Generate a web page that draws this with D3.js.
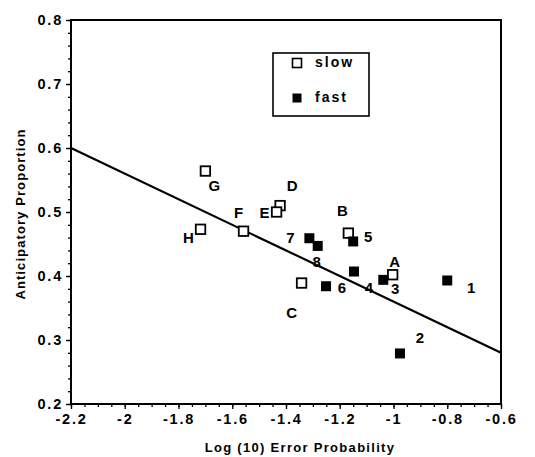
<!DOCTYPE html>
<html>
<head>
<meta charset="utf-8">
<script src="https://cdn.jsdelivr.net/npm/d3@7"></script>
<style>
  html, body { margin: 0; padding: 0; background: #fff; }
  svg { display: block; font-family: "Liberation Sans", Arial, sans-serif; }
</style>
</head>
<body>
<svg id="chart"></svg>
<script>
// Anticipatory proportion vs log error probability, slow / fast groups

// slow subjects (open squares)
const slowLabels = ["A", "B", "C", "D", "E", "F", "G", "H"];
const slowX = [-1.003, -1.168, -1.342, -1.422, -1.435, -1.558, -1.70, -1.718];
const slowY = [0.402, 0.467, 0.389, 0.510, 0.500, 0.470, 0.564, 0.473];

// fast subjects (filled squares)
const fastLabels = ["1", "2", "3", "4", "5", "6", "7", "8"];
const fastX = [-0.80, -0.976, -1.038, -1.147, -1.150, -1.251, -1.313, -1.282];
const fastY = [0.393, 0.279, 0.394, 0.407, 0.454, 0.384, 0.459, 0.447];

// regression line end points
const regX = [-2.2, -0.6];
const regY = [0.6, 0.28];

// ticks
const xTicks = [-2.2, -2, -1.8, -1.6, -1.4, -1.2, -1, -0.8, -0.6];
const xTickLabels = ["-2.2", "-2", "-1.8", "-1.6", "-1.4", "-1.2", "-1", "-0.8", "-0.6"];
const yTicks = [0.2, 0.3, 0.4, 0.5, 0.6, 0.7, 0.8];
const yTickLabels = ["0.2", "0.3", "0.4", "0.5", "0.6", "0.7", "0.8"];

const legendNames = ["slow", "fast"];

// label placement next to each point (pixel offsets)
const labelOffset = {
  A: [2, -13], B: [-6, -23], C: [-10, 30], D: [12, -20],
  E: [-12, 1], F: [-5, -19], G: [9, 15], H: [-12, 8],
  1: [24, 7], 2: [20, -16], 3: [12, 9], 4: [15, 16],
  5: [15, -5], 6: [16, 1], 7: [-19, -1], 8: [-1, 16],
};

const outerWidth = 535;
const outerHeight = 457;
const margin = { top: 20, right: 34, bottom: 53, left: 71 };
const innerWidth = outerWidth - margin.left - margin.right;
const innerHeight = outerHeight - margin.top - margin.bottom;

const svg = d3
  .select("#chart")
  .attr("width", outerWidth)
  .attr("height", outerHeight);

const chartG = svg
  .append("g")
  .attr("transform", `translate(${margin.left},${margin.top})`);

const xScale = d3.scaleLinear().domain([-2.2, -0.6]).range([0, innerWidth]);
const yScale = d3.scaleLinear().domain([0.2, 0.8]).range([innerHeight, 0]);

// minor ticks
const xMinor = d3.range(-2.2, -0.6 + 1e-9, 0.05);
const yMinor = d3.range(0.2, 0.8 + 1e-9, 0.02);

const xMinorG = chartG
  .append("g")
  .attr("transform", `translate(0,${innerHeight})`)
  .call(d3.axisBottom(xScale).tickValues(xMinor).tickSize(3).tickFormat(""));
const yMinorG = chartG
  .append("g")
  .call(d3.axisLeft(yScale).tickValues(yMinor).tickSize(3).tickFormat(""));

const xAxisG = chartG
  .append("g")
  .attr("transform", `translate(0,${innerHeight})`)
  .call(
    d3
      .axisBottom(xScale)
      .tickValues(xTicks)
      .tickSize(5)
      .tickPadding(5)
      .tickFormat((d, i) => xTickLabels[i]),
  );
const yAxisG = chartG.append("g").call(
  d3
    .axisLeft(yScale)
    .tickValues(yTicks)
    .tickSize(5)
    .tickPadding(3)
    .tickFormat((d, i) => yTickLabels[i]),
);

[xMinorG, yMinorG, xAxisG, yAxisG].forEach((g) => {
  g.select(".domain").remove();
  g.selectAll("line").attr("stroke", "#000").attr("stroke-width", 1.3);
});
[xAxisG, yAxisG].forEach((g) => {
  g.selectAll("text")
    .attr("fill", "#000")
    .style("font-size", "14.5px")
    .style("font-weight", "bold")
    .style("letter-spacing", "1.8px");
});

// frame
chartG
  .append("rect")
  .attr("x", 0)
  .attr("y", 0)
  .attr("width", innerWidth)
  .attr("height", innerHeight)
  .attr("fill", "none")
  .attr("stroke", "#000")
  .attr("stroke-width", 2);

// regression line
const regData = regX.map((x, i) => ({ x, y: regY[i] }));
chartG
  .append("path")
  .datum(regData)
  .attr("fill", "none")
  .attr("stroke", "#000")
  .attr("stroke-width", 2.2)
  .attr(
    "d",
    d3
      .line()
      .x((d) => xScale(d.x))
      .y((d) => yScale(d.y)),
  );

const slowData = slowLabels.map((l, i) => ({ label: l, x: slowX[i], y: slowY[i] }));
const fastData = fastLabels.map((l, i) => ({ label: l, x: fastX[i], y: fastY[i] }));

const SQ_OPEN = 9.5;
const SQ_FILL = 10;

// labels first, squares drawn on top
const allData = slowData.concat(fastData);
chartG
  .selectAll("text.pt-label")
  .data(allData)
  .join("text")
  .attr("class", "pt-label")
  .attr("x", (d) => xScale(d.x) + labelOffset[d.label][0])
  .attr("y", (d) => yScale(d.y) + labelOffset[d.label][1])
  .attr("dy", "0.36em")
  .attr("text-anchor", "middle")
  .attr("font-size", 15)
  .attr("font-weight", "bold")
  .attr("fill", "#000")
  .text((d) => d.label);

chartG
  .selectAll("rect.slow")
  .data(slowData)
  .join("rect")
  .attr("class", "slow")
  .attr("x", (d) => xScale(d.x) - SQ_OPEN / 2)
  .attr("y", (d) => yScale(d.y) - SQ_OPEN / 2)
  .attr("width", SQ_OPEN)
  .attr("height", SQ_OPEN)
  .attr("fill", "#fff")
  .attr("stroke", "#000")
  .attr("stroke-width", 1.8);

chartG
  .selectAll("rect.fast")
  .data(fastData)
  .join("rect")
  .attr("class", "fast")
  .attr("x", (d) => xScale(d.x) - SQ_FILL / 2)
  .attr("y", (d) => yScale(d.y) - SQ_FILL / 2)
  .attr("width", SQ_FILL)
  .attr("height", SQ_FILL)
  .attr("fill", "#000");

// legend
const legendG = svg.append("g").attr("transform", "translate(273,53)");
legendG
  .append("rect")
  .attr("width", 96)
  .attr("height", 63)
  .attr("fill", "#fff")
  .attr("stroke", "#000")
  .attr("stroke-width", 1.6);

const legendItems = legendG
  .selectAll("g.item")
  .data(legendNames)
  .join("g")
  .attr("class", "item")
  .attr("transform", (d, i) => `translate(24,${10 + i * 35})`);

legendItems
  .append("rect")
  .attr("x", -4.5)
  .attr("y", -4.5)
  .attr("width", 9)
  .attr("height", 9)
  .attr("fill", (d) => (d === "slow" ? "#fff" : "#000"))
  .attr("stroke", "#000")
  .attr("stroke-width", (d) => (d === "slow" ? 1.6 : 0));

legendItems
  .append("text")
  .attr("x", 18)
  .attr("y", -1)
  .attr("dy", "0.36em")
  .attr("font-size", 14)
  .attr("font-weight", "bold")
  .style("letter-spacing", "2px")
  .text((d) => d);

// axis titles
svg
  .append("text")
  .attr("x", margin.left + innerWidth / 2 + 14)
  .attr("y", 447)
  .attr("dy", "0.36em")
  .attr("text-anchor", "middle")
  .attr("font-size", 13)
  .attr("font-weight", "bold")
  .style("letter-spacing", "1.3px")
  .text("Log (10) Error Probability");

svg
  .append("text")
  .attr("transform", "rotate(-90)")
  .attr("x", -214)
  .attr("y", 20)
  .attr("dy", "0.36em")
  .attr("text-anchor", "middle")
  .attr("font-size", 13)
  .attr("font-weight", "bold")
  .style("letter-spacing", "1.1px")
  .text("Anticipatory Proportion");
</script>
</body>
</html>
